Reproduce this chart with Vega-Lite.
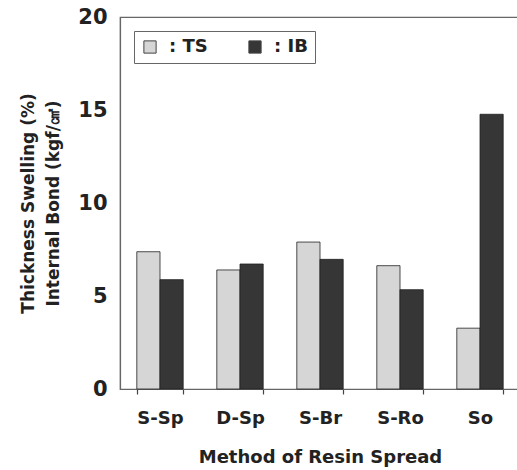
{
  "$schema": "https://vega.github.io/schema/vega-lite/v6.json",
  "autosize": "none",
  "padding": {"left": 120, "top": 17, "right": 0, "bottom": 81},
  "width": 400,
  "height": 372,
  "background": "white",
  "config": {
    "font": "DejaVu Sans",
    "view": {"stroke": "#666", "strokeWidth": 1.2}
  },
  "data": {
    "values": [
      {"method": "S-Sp", "series": "TS", "value": 7.38},
      {"method": "S-Sp", "series": "IB", "value": 5.88},
      {"method": "D-Sp", "series": "TS", "value": 6.4},
      {"method": "D-Sp", "series": "IB", "value": 6.72},
      {"method": "S-Br", "series": "TS", "value": 7.9},
      {"method": "S-Br", "series": "IB", "value": 6.97},
      {"method": "S-Ro", "series": "TS", "value": 6.63},
      {"method": "S-Ro", "series": "IB", "value": 5.34},
      {"method": "So", "series": "TS", "value": 3.27},
      {"method": "So", "series": "IB", "value": 14.77}
    ]
  },
  "mark": {"type": "bar", "stroke": "#222", "strokeWidth": 0.8},
  "encoding": {
    "x": {
      "field": "method",
      "type": "nominal",
      "sort": ["S-Sp", "D-Sp", "S-Br", "S-Ro", "So"],
      "scale": {"paddingInner": 0.42, "paddingOuter": 0.21},
      "axis": {
        "title": "Method of Resin Spread",
        "titleFontSize": 18,
        "titleFontWeight": "bold",
        "titleColor": "#222",
        "titlePadding": 21,
        "labelAngle": 0,
        "labelFontSize": 18,
        "labelFontWeight": "bold",
        "labelColor": "#222",
        "labelPadding": 15,
        "ticks": true,
        "tickBand": "extent",
        "tickSize": 5,
        "tickWidth": 1.2,
        "tickColor": "#444",
        "domainColor": "#666",
        "domainWidth": 1.2
      }
    },
    "xOffset": {"field": "series", "sort": ["TS", "IB"]},
    "y": {
      "field": "value",
      "type": "quantitative",
      "scale": {"domain": [0, 20]},
      "axis": {
        "title": ["Thickness Swelling (%)", "Internal Bond (kgf/㎠)"],
        "titleFontSize": 17,
        "titleFontWeight": "bold",
        "titleColor": "#222",
        "titlePadding": 15,
        "titleLineHeight": 25,
        "values": [0, 5, 10, 15, 20],
        "ticks": false,
        "grid": false,
        "labelFontSize": 21,
        "labelFontWeight": "bold",
        "labelColor": "#222",
        "labelPadding": 13,
        "domainColor": "#666",
        "domainWidth": 1.2
      }
    },
    "color": {
      "field": "series",
      "type": "nominal",
      "sort": ["TS", "IB"],
      "scale": {"domain": ["TS", "IB"], "range": ["#d6d6d6", "#363636"]},
      "legend": {
        "orient": "none",
        "legendX": 14,
        "legendY": 14,
        "direction": "horizontal",
        "title": null,
        "labelExpr": "': ' + datum.label",
        "labelFontSize": 18,
        "labelFontWeight": "bold",
        "labelColor": "#222",
        "symbolType": "square",
        "symbolSize": 150,
        "symbolStrokeColor": "#444",
        "symbolStrokeWidth": 1,
        "columnPadding": 38,
        "padding": 7,
        "strokeColor": "#666",
        "labelOffset": 10
      }
    }
  }
}
